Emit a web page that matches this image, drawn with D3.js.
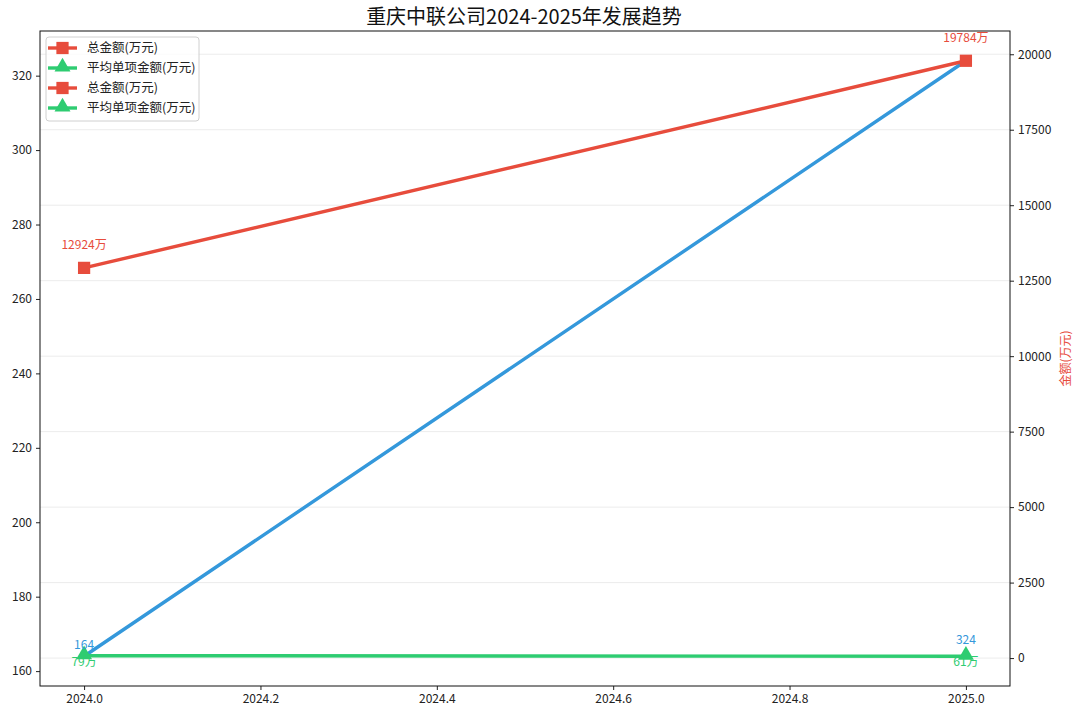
<!DOCTYPE html>
<html><head><meta charset="utf-8">
<script src="https://cdn.jsdelivr.net/npm/d3@7"></script>
<style>
body{margin:0;background:#fff;}
svg{display:block;font-family:"Noto Sans CJK SC","Noto Sans",sans-serif;}
</style></head>
<body><svg id="c" width="1080" height="718"></svg>
<script>
const titleText = "重庆中联公司2024-2025年发展趋势";
const years = [2024, 2025];
const projectCounts = [164, 324];
const totalAmounts = [12924, 19784];
const avgAmounts = [79, 61];
const xTicks = [2024.0, 2024.2, 2024.4, 2024.6, 2024.8, 2025.0];
const leftTicks = [160, 180, 200, 220, 240, 260, 280, 300, 320];
const rightTicks = [0, 2500, 5000, 7500, 10000, 12500, 15000, 17500, 20000];
const rightLabel = "金额(万元)";
const legendLabels = ["总金额(万元)", "平均单项金额(万元)", "总金额(万元)", "平均单项金额(万元)"];
const legendKinds = ["total", "avg", "total", "avg"];

const colors = {count: "#3498db", total: "#e74c3c", avg: "#2ecc71"};
const L = 40, R = 1010, T = 31, B = 686;
const svg = d3.select("#c");

const x = d3.scaleLinear().domain([2023.95, 2025.05]).range([L, R]);
const yL = d3.scaleLinear().domain([156, 332]).range([B, T]);
const rMin = d3.min(avgAmounts), rMax = d3.max(totalAmounts), rPad = (rMax - rMin) * 0.05;
const yR = d3.scaleLinear().domain([rMin - rPad, rMax + rPad]).range([B, T]);

// grid (right axis)
svg.append("g").selectAll("line").data(rightTicks).join("line")
  .attr("x1", L).attr("x2", R).attr("y1", d => yR(d)).attr("y2", d => yR(d))
  .attr("stroke", "#b0b0b0").attr("stroke-opacity", 0.3).attr("stroke-width", 0.8);

// axes
const fs = "12px";
const gx = svg.append("g").attr("transform", `translate(0,${B})`)
  .call(d3.axisBottom(x).tickValues(xTicks).tickFormat(d3.format(".1f")).tickSize(4).tickPadding(4));
const gl = svg.append("g").attr("transform", `translate(${L},0)`)
  .call(d3.axisLeft(yL).tickValues(leftTicks).tickSize(4).tickPadding(4));
const gr = svg.append("g").attr("transform", `translate(${R},0)`)
  .call(d3.axisRight(yR).tickValues(rightTicks).tickFormat(d3.format("d")).tickSize(4).tickPadding(4));
[gx, gl, gr].forEach(g => {
  g.select(".domain").remove();
  g.selectAll("text").attr("font-size", fs).attr("fill", "#222").attr("font-family", '"Noto Sans CJK SC",sans-serif');
  g.selectAll("line").attr("stroke", "#222");
});
svg.append("rect").attr("x", L).attr("y", T).attr("width", R - L).attr("height", B - T)
  .attr("fill", "none").attr("stroke", "#111").attr("stroke-width", 1);

// title
svg.append("text").attr("x", (L + R) / 2 - 1).attr("y", 24).attr("text-anchor", "middle")
  .attr("font-size", "20px").attr("font-weight", 400).attr("fill", "#111").text(titleText);

// right label
svg.append("text").attr("transform", `translate(1070,${(T + B) / 2}) rotate(-90)`)
  .attr("text-anchor", "middle").attr("font-size", "12px").attr("fill", colors.total).text(rightLabel);

const lw = 3.4;
// blue line (left axis)
svg.append("path").datum(years.map((d, i) => [d, projectCounts[i]]))
  .attr("d", d3.line().x(d => x(d[0])).y(d => yL(d[1])))
  .attr("fill", "none").attr("stroke", colors.count).attr("stroke-width", lw).attr("stroke-linecap", "round");

const sq = d3.symbol().type(d3.symbolSquare).size(150);
const tri = d3.symbol().type(d3.symbolTriangle).size(110);

// red line
svg.append("path").datum(years.map((d, i) => [d, totalAmounts[i]]))
  .attr("d", d3.line().x(d => x(d[0])).y(d => yR(d[1])))
  .attr("fill", "none").attr("stroke", colors.total).attr("stroke-width", lw).attr("stroke-linecap", "round");
svg.append("g").selectAll("path").data(years.map((d, i) => [d, totalAmounts[i]])).join("path")
  .attr("d", sq).attr("transform", d => `translate(${x(d[0])},${yR(d[1])})`).attr("fill", colors.total);

// green line
svg.append("path").datum(years.map((d, i) => [d, avgAmounts[i]]))
  .attr("d", d3.line().x(d => x(d[0])).y(d => yR(d[1])))
  .attr("fill", "none").attr("stroke", colors.avg).attr("stroke-width", lw).attr("stroke-linecap", "round");
svg.append("g").selectAll("path").data(years.map((d, i) => [d, avgAmounts[i]])).join("path")
  .attr("d", tri).attr("transform", d => `translate(${x(d[0])},${yR(d[1]) - 1})`).attr("fill", colors.avg);

// annotations
const ann = svg.append("g").attr("font-size", "12px").attr("text-anchor", "middle");
years.forEach((yr, i) => {
  ann.append("text").attr("x", x(yr)).attr("y", yR(totalAmounts[i]) - 19)
    .attr("fill", colors.total).text(totalAmounts[i] + "万");
  ann.append("text").attr("x", x(yr)).attr("y", yR(projectCounts[i]) - 4)
    .attr("fill", colors.count).text(projectCounts[i]);
  ann.append("text").attr("x", x(yr)).attr("y", yR(avgAmounts[i]) + 10)
    .attr("fill", colors.avg).text(avgAmounts[i] + "万");
});

// legend
const lg = svg.append("g").attr("transform", "translate(46,37)");
lg.append("rect").attr("width", 153).attr("height", 84).attr("rx", 3)
  .attr("fill", "#fff").attr("fill-opacity", 0.8).attr("stroke", "#d0d0d0");
legendLabels.forEach((lab, i) => {
  const yy = 11 + i * 20;
  const c = colors[legendKinds[i]];
  lg.append("line").attr("x1", 2).attr("x2", 31).attr("y1", yy).attr("y2", yy)
    .attr("stroke", c).attr("stroke-width", lw);
  lg.append("path").attr("d", legendKinds[i] === "total" ? sq : tri)
    .attr("transform", `translate(16.5,${yy - (legendKinds[i] === "total" ? 0 : 1)})`).attr("fill", c);
  lg.append("text").attr("x", 41).attr("y", yy + 4).attr("font-size", "12.5px").attr("fill", "#222").text(lab);
});
</script></body></html>
